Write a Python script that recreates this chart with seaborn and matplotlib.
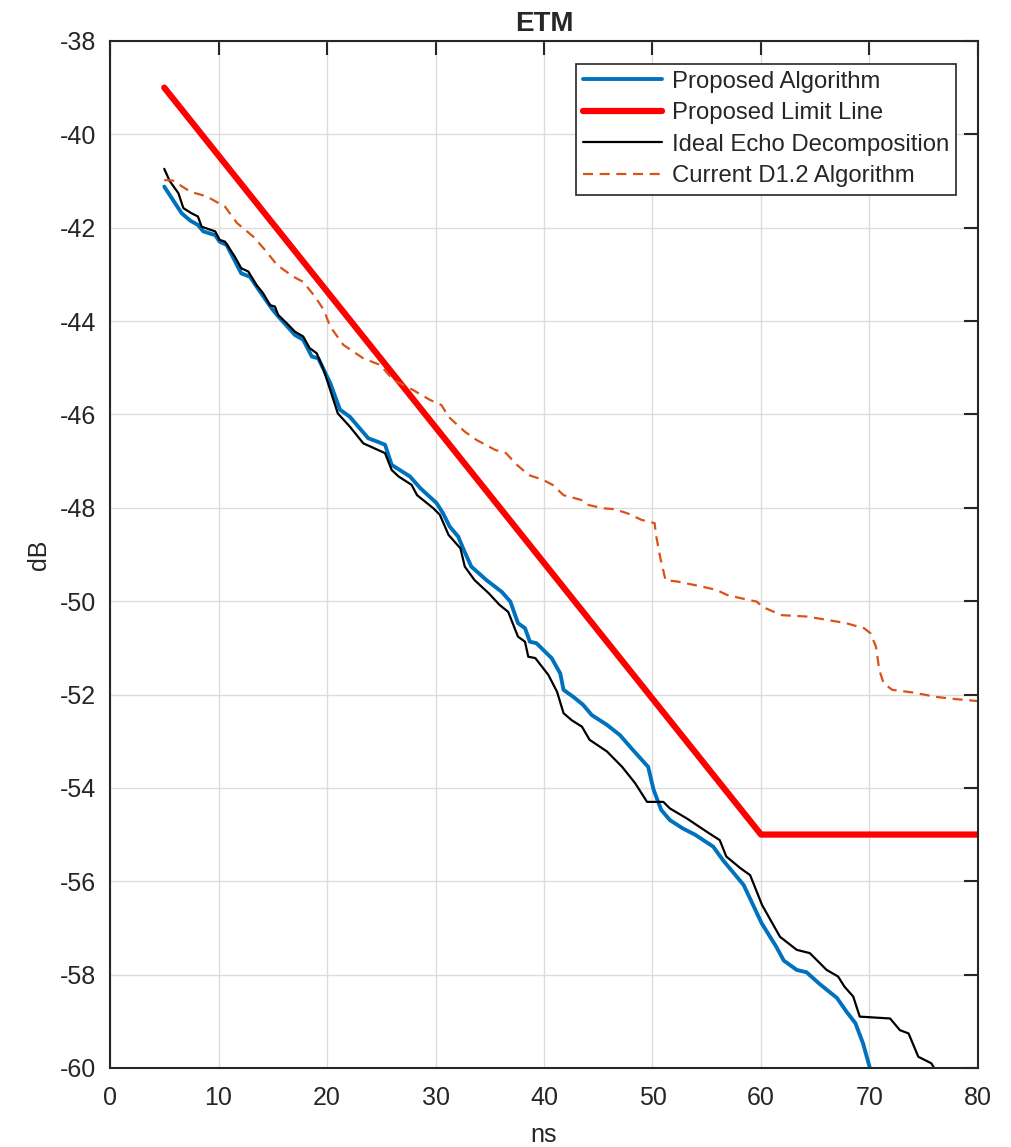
import numpy as np
import matplotlib
matplotlib.use("Agg")
import matplotlib.pyplot as plt
import seaborn as sns

# Proposed Algorithm (blue)
prop_ns = [5.0, 5.7, 6.6, 7.4, 8.1, 8.6, 9.7, 10.1, 10.75, 12.1, 12.9, 13.5, 14.9, 15.5,
           17.05, 17.8, 18.6, 19.2, 20.3, 21.2, 22.1, 23.8, 24.6, 25.35, 25.96, 26.7, 27.65,
           28.6, 30.1, 30.7, 31.3, 32.1, 32.6, 33.3, 34.7, 36.1, 36.9, 37.6, 38.25, 38.7,
           39.3, 40.7, 41.5, 41.8, 42.7, 43.6, 44.4, 45.8, 47.0, 48.2, 49.6, 50.1, 50.8,
           51.6, 52.8, 53.9, 55.6, 56.5, 58.4, 60.06, 61.4, 62.1, 63.3, 64.2, 65.4, 67.0,
           67.9, 68.7, 69.4, 70.0, 70.2]
prop_db = [-41.12, -41.37, -41.69, -41.85, -41.94, -42.08, -42.16, -42.3, -42.37, -42.98,
           -43.05, -43.26, -43.73, -43.9, -44.3, -44.4, -44.76, -44.8, -45.33, -45.9, -46.05,
           -46.51, -46.58, -46.65, -47.08, -47.19, -47.33, -47.58, -47.9, -48.12, -48.4,
           -48.62, -48.9, -49.26, -49.55, -49.8, -50.01, -50.47, -50.58, -50.87, -50.9,
           -51.22, -51.55, -51.9, -52.05, -52.22, -52.44, -52.65, -52.87, -53.19, -53.55,
           -54.04, -54.47, -54.69, -54.87, -55.0, -55.26, -55.55, -56.08, -56.9, -57.4,
           -57.7, -57.9, -57.95, -58.2, -58.5, -58.8, -59.04, -59.47, -59.97, -60.3]

# Proposed Limit Line (red)
limit_ns = [5, 60, 80]
limit_db = [-39, -55, -55]

# Ideal Echo Decomposition (black)
ideal_ns = [5.0, 5.5, 6.3, 6.76, 7.5, 8.1, 8.45, 9.7, 10.1, 10.6, 11.5, 12.1, 12.75, 13.5,
            14.1, 14.75, 15.2, 15.5, 16.3, 17.05, 17.8, 18.4, 19.05, 19.7, 20.4, 21.0, 22.1,
            23.35, 24.4, 25.35, 25.96, 26.6, 27.8, 28.3, 29.8, 30.4, 31.2, 32.3, 32.7, 33.6,
            34.9, 35.9, 36.7, 37.6, 38.25, 38.55, 39.2, 40.4, 41.2, 41.8, 42.55, 43.5, 44.2,
            45.8, 47.2, 48.4, 49.5, 51.0, 51.6, 53.2, 55.0, 56.2, 56.8, 58.1, 59.0, 60.1,
            61.75, 63.3, 64.5, 66.05, 67.1, 67.7, 68.5, 69.1, 71.9, 72.8, 73.6, 74.5, 75.7,
            76.2]
ideal_db = [-40.74, -41.0, -41.26, -41.58, -41.69, -41.76, -41.98, -42.08, -42.26, -42.3,
            -42.62, -42.87, -42.94, -43.23, -43.4, -43.66, -43.69, -43.87, -44.05, -44.23,
            -44.33, -44.58, -44.69, -45.05, -45.55, -45.98, -46.26, -46.62, -46.73, -46.83,
            -47.19, -47.33, -47.51, -47.73, -48.01, -48.15, -48.58, -48.87, -49.26, -49.55,
            -49.83, -50.08, -50.23, -50.76, -50.87, -51.19, -51.22, -51.58, -51.94, -52.4,
            -52.55, -52.69, -52.97, -53.22, -53.55, -53.9, -54.3, -54.3, -54.44, -54.66,
            -54.94, -55.12, -55.47, -55.72, -55.87, -56.51, -57.19, -57.47, -57.54, -57.9,
            -58.04, -58.26, -58.47, -58.9, -58.94, -59.19, -59.26, -59.76, -59.9, -60.1]

# Current D1.2 Algorithm (orange dashed)
d12_ns = [5.0, 5.8, 7.4, 8.9, 10.3, 10.6, 11.7, 13.2, 14.3, 15.4, 16.9, 17.8, 18.9, 19.7,
          20.3, 21.5, 23.35, 24.9, 26.1, 27.65, 29.5, 30.55, 31.2, 32.7, 33.8, 35.5, 36.5,
          37.5, 38.6, 39.9, 40.8, 41.8, 43.4, 44.1, 45.4, 46.5, 47.7, 49.0, 50.2, 50.3,
          50.7, 51.2, 52.3, 54.6, 55.9, 56.9, 58.2, 59.6, 60.2, 61.9, 64.2, 65.8, 67.8,
          69.5, 70.1, 70.6, 70.9, 71.3, 72.1, 74.1, 76.1, 78.0, 80.0]
d12_db = [-40.98, -40.99, -41.23, -41.33, -41.51, -41.55, -41.9, -42.19, -42.48, -42.8,
          -43.05, -43.16, -43.48, -43.76, -44.12, -44.51, -44.8, -44.94, -45.26, -45.44,
          -45.69, -45.8, -46.05, -46.37, -46.55, -46.76, -46.83, -47.08, -47.3, -47.4,
          -47.51, -47.73, -47.83, -47.94, -48.01, -48.03, -48.12, -48.26, -48.33, -48.55,
          -49.05, -49.55, -49.58, -49.69, -49.76, -49.87, -49.94, -50.01, -50.13, -50.3,
          -50.33, -50.39, -50.47, -50.58, -50.69, -50.98, -51.47, -51.76, -51.9, -51.96,
          -52.05, -52.1, -52.14]

sns.set_style("white")
plt.rcParams['font.family'] = ['Liberation Sans', 'DejaVu Sans']
plt.rcParams['axes.unicode_minus'] = False

fig = plt.figure(figsize=(10.12, 11.47), dpi=100)
ax = fig.add_axes([0.1087, 0.0689, 0.8577, 0.8954])

sns.lineplot(x=prop_ns, y=prop_db, ax=ax, color='#0072BD', lw=2.8, sort=False,
             label='Proposed Algorithm')
sns.lineplot(x=limit_ns, y=limit_db, ax=ax, color='#FF0000', lw=4.5, sort=False,
             label='Proposed Limit Line')
sns.lineplot(x=ideal_ns, y=ideal_db, ax=ax, color='black', lw=1.6, sort=False,
             label='Ideal Echo Decomposition')
sns.lineplot(x=d12_ns, y=d12_db, ax=ax, color='#D95319', lw=1.6, sort=False,
             dashes=False, label='Current D1.2 Algorithm')
ax.lines[-1].set_dashes((4.5, 3))

ax.set_xlim(0, 80)
ax.set_ylim(-60, -38)
ax.set_xticks(np.arange(0, 81, 10))
ax.set_yticks(np.arange(-60, -37, 2))
ax.grid(True, color='#dcdcdc', lw=1)
for s in ax.spines.values():
    s.set_color('#262626')
    s.set_linewidth(1.5)
ax.tick_params(direction='in', length=10, width=1.5, colors='#262626',
               labelsize=18, top=True, right=True, pad=10)
ax.tick_params(axis='x', pad=13)

ax.set_title('ETM', fontsize=20, fontweight='bold', pad=7)
ax.set_xlabel('ns', fontsize=18, color='#262626', labelpad=9)
ax.set_ylabel('dB', fontsize=18, color='#262626', labelpad=6)

leg = ax.legend(loc='upper right', bbox_to_anchor=(0.975, 0.978), fontsize=17.2,
                frameon=True, fancybox=False, handlelength=3.3, borderpad=0.3,
                labelspacing=0.4, handletextpad=0.4, borderaxespad=0)
leg.get_frame().set_edgecolor('#262626')
leg.get_frame().set_linewidth(1.2)
leg.get_frame().set_alpha(1)

fig.savefig('out.png', dpi=100)
